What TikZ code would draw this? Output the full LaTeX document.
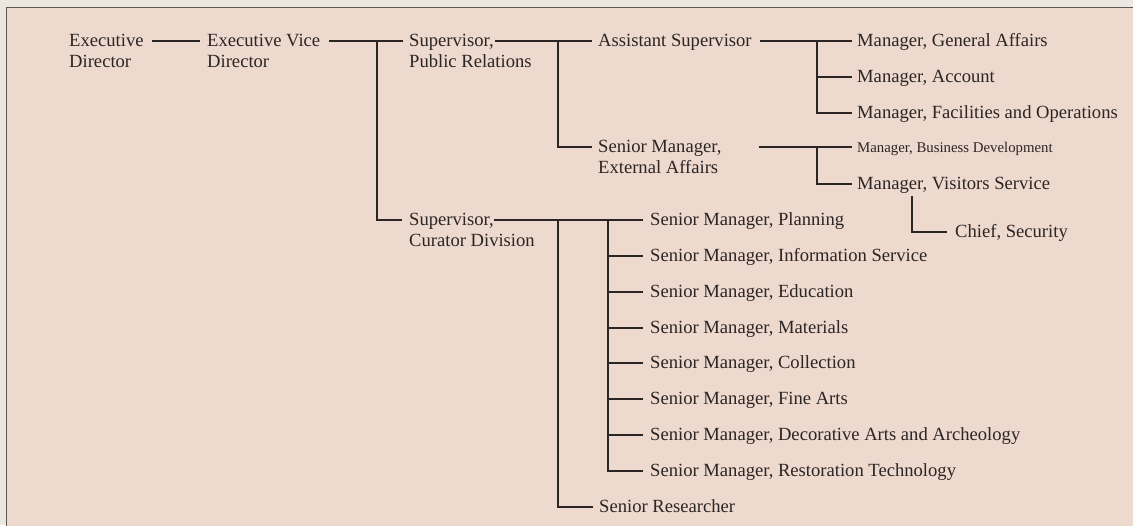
\documentclass[tikz,border=0pt]{standalone}
\usepackage{fontspec}
\setmainfont{Liberation Serif}
\definecolor{outer}{HTML}{ECE7DF}
\definecolor{boxfill}{HTML}{EED9CE}
\definecolor{boxline}{HTML}{5E5654}
\definecolor{ink}{HTML}{2B2524}
\tikzset{
  lab/.style={anchor=base west, inner sep=0pt, text=ink, font=\fontsize{18.6}{21}\selectfont},
  smalllab/.style={lab, font=\fontsize{14.8}{17}\selectfont},
  conn/.style={draw=ink, line width=1.2pt},
}
\newcommand\two[2]{\begin{tabular}[t]{@{}l@{}}#1\\#2\end{tabular}}
\newcommand\pE[2]{([xshift=#2pt,yshift=5.5pt]#1.base east)}
\newcommand\pW[2]{([xshift=-#2pt,yshift=5.5pt]#1.base west)}
\begin{document}
\begin{tikzpicture}[x=1pt,y=-1pt]
\useasboundingbox (0,0) rectangle (1133,525);
\clip (0,0) rectangle (1133,525);
\fill[outer] (0,0) rectangle (1133,525);
\draw[boxline, line width=1.5pt, fill=boxfill] (6.5,7.5) rectangle (1150,545);

% nodes
\node[lab] (ed)  at (69,46.5)  {\two{Executive}{Director}};
\node[lab] (evd) at (207,46.5) {\two{Executive Vice}{Director}};
\node[lab] (spr) at (409,46.5) {Supervisor,};
\node[lab] (spr2) at (409,67.5) {Public Relations};
\node[lab] (as)  at (598,46.5) {Assistant Supervisor};
\node[lab] (sme) at (598,152.5) {\two{Senior Manager,}{External Affairs}};
\node[lab] (mga) at (857,46.5) {Manager, General Affairs};
\node[lab] (mac) at (857,82.5) {Manager, Account};
\node[lab] (mfo) at (857,118.5) {Manager, Facilities and Operations};
\node[smalllab] (mbd) at (857,152.5) {Manager, Business Development};
\node[lab] (mvs) at (857,189.5) {Manager, Visitors Service};
\node[lab] (cs)  at (955,237.5) {Chief, Security};
\node[lab] (scd) at (409,225.5) {Supervisor,};
\node[lab] (scd2) at (409,246.5) {Curator Division};
\node[lab] (s1) at (650,225.5) {Senior Manager, Planning};
\node[lab] (s2) at (650,261.5) {Senior Manager, Information Service};
\node[lab] (s3) at (650,297.5) {Senior Manager, Education};
\node[lab] (s4) at (650,333.5) {Senior Manager, Materials};
\node[lab] (s5) at (650,368.5) {Senior Manager, Collection};
\node[lab] (s6) at (650,404.5) {Senior Manager, Fine Arts};
\node[lab] (s7) at (650,440.5) {Senior Manager, Decorative Arts and Archeology};
\node[lab] (s8) at (650,476.5) {Senior Manager, Restoration Technology};
\node[lab] (sr) at (599,512.5) {Senior Researcher};

% branch points
\coordinate (b1) at (377,41);
\coordinate (b2) at (558,41);
\coordinate (b3) at (817,41);
\coordinate (b4) at (817,147);
\coordinate (b5) at (558,220);
\coordinate (b6) at (608,220);
\coordinate (cv) at ([xshift=55pt,yshift=-6pt]mvs.base west);

% connectors
\draw[conn] \pE{ed}{8} -- \pW{evd}{7};
\draw[conn] \pE{evd}{9} -- \pW{spr}{6};
\draw[conn] (b1) |- \pW{scd}{7};
\draw[conn] \pE{spr}{1} -- \pW{as}{6};
\draw[conn] (b2) |- \pW{sme}{6};
\draw[conn] \pE{as}{8} -- \pW{mga}{5};
\draw[conn] (b3) |- \pW{mac}{5};
\draw[conn] (b3) |- \pW{mfo}{5};
\draw[conn] \pE{sme}{37} -- \pW{mbd}{5};
\draw[conn] (b4) |- \pW{mvs}{5};
\draw[conn] (cv) |- \pW{cs}{8};
\draw[conn] \pE{scd}{0} -- \pW{s1}{7};
\draw[conn] (b5) |- \pW{sr}{6};
\foreach \n in {s2,s3,s4,s5,s6,s7,s8}{
  \draw[conn] (b6) |- \pW{\n}{7};
}
\end{tikzpicture}
\end{document}
